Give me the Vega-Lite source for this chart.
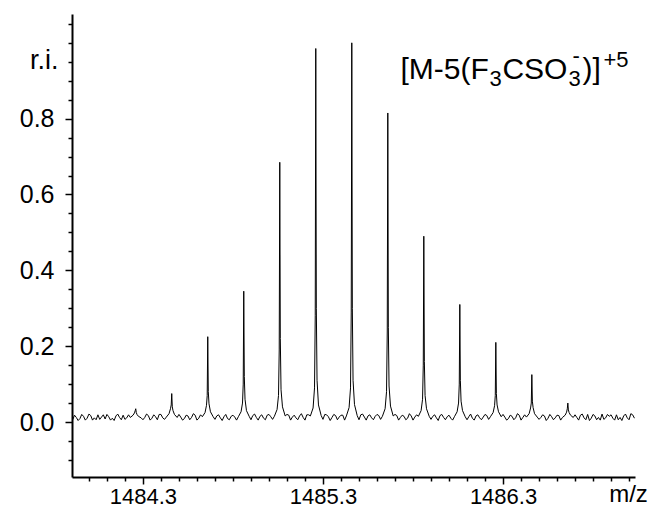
{
 "$schema": "https://vega.github.io/schema/vega-lite/v6.json",
 "width": 563, "height": 463,
 "autosize": {"type": "none"},
 "padding": {"left": 72, "top": 14, "right": 17, "bottom": 45},
 "background": "white",
 "config": {"view": {"stroke": null}, "font": "Liberation Sans"},
 "resolve": {"axis": {"x": "independent", "y": "independent"}},
 "layer": [
  {
   "data": {"values": [
    {"mz":1483.91,"ri":0.006},{"mz":1483.93,"ri":0.012},{"mz":1483.95,"ri":0.009},{"mz":1483.97,"ri":0.015},{"mz":1483.99,"ri":0.010},{"mz":1484.01,"ri":0.017},{"mz":1484.03,"ri":0.011},{"mz":1484.05,"ri":0.019},{"mz":1484.07,"ri":0.013},{"mz":1484.09,"ri":0.008},{"mz":1484.11,"ri":0.014},{"mz":1484.13,"ri":0.010},{"mz":1484.15,"ri":0.016},{"mz":1484.17,"ri":0.012},{"mz":1484.19,"ri":0.018},{"mz":1484.21,"ri":0.011},
    {"mz":1484.23,"ri":0.012},{"mz":1484.245,"ri":0.018},{"mz":1484.253,"ri":0.024},{"mz":1484.257,"ri":0.030},{"mz":1484.26,"ri":0.035},{"mz":1484.263,"ri":0.025},{"mz":1484.267,"ri":0.020},{"mz":1484.275,"ri":0.015},{"mz":1484.29,"ri":0.011},
    {"mz":1484.31,"ri":0.012},{"mz":1484.33,"ri":0.017},{"mz":1484.35,"ri":0.010},{"mz":1484.37,"ri":0.014},{"mz":1484.39,"ri":0.020},{"mz":1484.41,"ri":0.011},
    {"mz":1484.43,"ri":0.013},{"mz":1484.445,"ri":0.022},{"mz":1484.453,"ri":0.035},{"mz":1484.457,"ri":0.045},{"mz":1484.46,"ri":0.075},{"mz":1484.463,"ri":0.040},{"mz":1484.467,"ri":0.030},{"mz":1484.475,"ri":0.020},{"mz":1484.49,"ri":0.012},
    {"mz":1484.51,"ri":0.013},{"mz":1484.53,"ri":0.009},{"mz":1484.55,"ri":0.016},{"mz":1484.57,"ri":0.012},{"mz":1484.59,"ri":0.018},{"mz":1484.61,"ri":0.010},
    {"mz":1484.63,"ri":0.014},{"mz":1484.645,"ri":0.025},{"mz":1484.653,"ri":0.044},{"mz":1484.657,"ri":0.070},{"mz":1484.66,"ri":0.225},{"mz":1484.663,"ri":0.080},{"mz":1484.667,"ri":0.048},{"mz":1484.675,"ri":0.027},{"mz":1484.69,"ri":0.014},
    {"mz":1484.71,"ri":0.016},{"mz":1484.73,"ri":0.011},{"mz":1484.75,"ri":0.014},{"mz":1484.77,"ri":0.009},{"mz":1484.79,"ri":0.015},{"mz":1484.81,"ri":0.013},
    {"mz":1484.83,"ri":0.014},{"mz":1484.845,"ri":0.027},{"mz":1484.853,"ri":0.050},{"mz":1484.857,"ri":0.100},{"mz":1484.86,"ri":0.345},{"mz":1484.863,"ri":0.120},{"mz":1484.867,"ri":0.060},{"mz":1484.875,"ri":0.030},{"mz":1484.89,"ri":0.015},
    {"mz":1484.91,"ri":0.017},{"mz":1484.93,"ri":0.012},{"mz":1484.95,"ri":0.015},{"mz":1484.97,"ri":0.010},{"mz":1484.99,"ri":0.018},{"mz":1485.01,"ri":0.014},
    {"mz":1485.03,"ri":0.015},{"mz":1485.045,"ri":0.033},{"mz":1485.053,"ri":0.070},{"mz":1485.057,"ri":0.190},{"mz":1485.06,"ri":0.685},{"mz":1485.063,"ri":0.220},{"mz":1485.067,"ri":0.085},{"mz":1485.075,"ri":0.040},{"mz":1485.09,"ri":0.016},
    {"mz":1485.11,"ri":0.018},{"mz":1485.13,"ri":0.013},{"mz":1485.15,"ri":0.011},{"mz":1485.17,"ri":0.016},{"mz":1485.19,"ri":0.012},{"mz":1485.21,"ri":0.019},
    {"mz":1485.23,"ri":0.016},{"mz":1485.245,"ri":0.037},{"mz":1485.253,"ri":0.090},{"mz":1485.257,"ri":0.280},{"mz":1485.26,"ri":0.985},{"mz":1485.263,"ri":0.300},{"mz":1485.267,"ri":0.110},{"mz":1485.275,"ri":0.045},{"mz":1485.29,"ri":0.017},
    {"mz":1485.31,"ri":0.020},{"mz":1485.33,"ri":0.014},{"mz":1485.35,"ri":0.012},{"mz":1485.37,"ri":0.017},{"mz":1485.39,"ri":0.013},{"mz":1485.41,"ri":0.018},
    {"mz":1485.43,"ri":0.016},{"mz":1485.445,"ri":0.038},{"mz":1485.453,"ri":0.090},{"mz":1485.457,"ri":0.290},{"mz":1485.46,"ri":1.0},{"mz":1485.463,"ri":0.300},{"mz":1485.467,"ri":0.110},{"mz":1485.475,"ri":0.046},{"mz":1485.49,"ri":0.017},
    {"mz":1485.51,"ri":0.019},{"mz":1485.53,"ri":0.013},{"mz":1485.55,"ri":0.016},{"mz":1485.57,"ri":0.011},{"mz":1485.59,"ri":0.015},{"mz":1485.61,"ri":0.017},
    {"mz":1485.63,"ri":0.015},{"mz":1485.645,"ri":0.035},{"mz":1485.653,"ri":0.080},{"mz":1485.657,"ri":0.240},{"mz":1485.66,"ri":0.815},{"mz":1485.663,"ri":0.250},{"mz":1485.667,"ri":0.095},{"mz":1485.675,"ri":0.042},{"mz":1485.69,"ri":0.016},
    {"mz":1485.71,"ri":0.017},{"mz":1485.73,"ri":0.012},{"mz":1485.75,"ri":0.015},{"mz":1485.77,"ri":0.010},{"mz":1485.79,"ri":0.016},{"mz":1485.81,"ri":0.013},
    {"mz":1485.83,"ri":0.015},{"mz":1485.845,"ri":0.030},{"mz":1485.853,"ri":0.060},{"mz":1485.857,"ri":0.150},{"mz":1485.86,"ri":0.490},{"mz":1485.863,"ri":0.160},{"mz":1485.867,"ri":0.070},{"mz":1485.875,"ri":0.035},{"mz":1485.89,"ri":0.015},
    {"mz":1485.91,"ri":0.015},{"mz":1485.93,"ri":0.011},{"mz":1485.95,"ri":0.017},{"mz":1485.97,"ri":0.012},{"mz":1485.99,"ri":0.014},{"mz":1486.01,"ri":0.010},
    {"mz":1486.03,"ri":0.014},{"mz":1486.045,"ri":0.027},{"mz":1486.053,"ri":0.050},{"mz":1486.057,"ri":0.100},{"mz":1486.06,"ri":0.310},{"mz":1486.063,"ri":0.110},{"mz":1486.067,"ri":0.055},{"mz":1486.075,"ri":0.030},{"mz":1486.09,"ri":0.014},
    {"mz":1486.11,"ri":0.014},{"mz":1486.13,"ri":0.010},{"mz":1486.15,"ri":0.016},{"mz":1486.17,"ri":0.011},{"mz":1486.19,"ri":0.013},{"mz":1486.21,"ri":0.017},
    {"mz":1486.23,"ri":0.014},{"mz":1486.245,"ri":0.025},{"mz":1486.253,"ri":0.043},{"mz":1486.257,"ri":0.070},{"mz":1486.26,"ri":0.210},{"mz":1486.263,"ri":0.075},{"mz":1486.267,"ri":0.045},{"mz":1486.275,"ri":0.027},{"mz":1486.29,"ri":0.014},
    {"mz":1486.31,"ri":0.013},{"mz":1486.33,"ri":0.009},{"mz":1486.35,"ri":0.015},{"mz":1486.37,"ri":0.011},{"mz":1486.39,"ri":0.018},{"mz":1486.41,"ri":0.012},
    {"mz":1486.43,"ri":0.013},{"mz":1486.445,"ri":0.022},{"mz":1486.453,"ri":0.037},{"mz":1486.457,"ri":0.050},{"mz":1486.46,"ri":0.125},{"mz":1486.463,"ri":0.055},{"mz":1486.467,"ri":0.038},{"mz":1486.475,"ri":0.022},{"mz":1486.49,"ri":0.013},
    {"mz":1486.51,"ri":0.012},{"mz":1486.53,"ri":0.016},{"mz":1486.55,"ri":0.010},{"mz":1486.57,"ri":0.014},{"mz":1486.59,"ri":0.011},{"mz":1486.61,"ri":0.017},
    {"mz":1486.63,"ri":0.012},{"mz":1486.645,"ri":0.018},{"mz":1486.653,"ri":0.026},{"mz":1486.657,"ri":0.035},{"mz":1486.66,"ri":0.050},{"mz":1486.663,"ri":0.032},{"mz":1486.667,"ri":0.025},{"mz":1486.675,"ri":0.018},{"mz":1486.69,"ri":0.012},
    {"mz":1486.71,"ri":0.012},{"mz":1486.73,"ri":0.018},{"mz":1486.75,"ri":0.011},{"mz":1486.77,"ri":0.020},{"mz":1486.79,"ri":0.010},{"mz":1486.81,"ri":0.016},{"mz":1486.83,"ri":0.012},{"mz":1486.85,"ri":0.021},{"mz":1486.87,"ri":0.011},{"mz":1486.89,"ri":0.015},{"mz":1486.91,"ri":0.010},{"mz":1486.93,"ri":0.019},{"mz":1486.95,"ri":0.012},{"mz":1486.97,"ri":0.016},{"mz":1486.99,"ri":0.011},{"mz":1487.01,"ri":0.022},{"mz":1487.03,"ri":0.010},
    {"mz":1483.92,"ri":0.018},{"mz":1483.94,"ri":0.004},{"mz":1483.96,"ri":0.020},{"mz":1483.98,"ri":0.005},{"mz":1484.00,"ri":0.021},{"mz":1484.02,"ri":0.005},{"mz":1484.04,"ri":0.006},{"mz":1484.06,"ri":0.007},{"mz":1484.08,"ri":0.019},{"mz":1484.10,"ri":0.020},{"mz":1484.12,"ri":0.005},{"mz":1484.14,"ri":0.004},{"mz":1484.16,"ri":0.021},{"mz":1484.18,"ri":0.006},{"mz":1484.20,"ri":0.007},{"mz":1484.22,"ri":0.019},
    {"mz":1484.30,"ri":0.006},{"mz":1484.32,"ri":0.021},{"mz":1484.34,"ri":0.005},{"mz":1484.36,"ri":0.019},{"mz":1484.38,"ri":0.006},{"mz":1484.40,"ri":0.020},{"mz":1484.42,"ri":0.007},
    {"mz":1484.50,"ri":0.020},{"mz":1484.52,"ri":0.005},{"mz":1484.54,"ri":0.018},{"mz":1484.56,"ri":0.006},{"mz":1484.58,"ri":0.022},{"mz":1484.60,"ri":0.005},{"mz":1484.62,"ri":0.019},
    {"mz":1484.70,"ri":0.007},{"mz":1484.72,"ri":0.019},{"mz":1484.74,"ri":0.004},{"mz":1484.76,"ri":0.020},{"mz":1484.78,"ri":0.006},{"mz":1484.80,"ri":0.018},{"mz":1484.82,"ri":0.005},
    {"mz":1484.90,"ri":0.006},{"mz":1484.92,"ri":0.021},{"mz":1484.94,"ri":0.005},{"mz":1484.96,"ri":0.019},{"mz":1484.98,"ri":0.006},{"mz":1485.00,"ri":0.020},{"mz":1485.02,"ri":0.007},
    {"mz":1485.10,"ri":0.020},{"mz":1485.12,"ri":0.005},{"mz":1485.14,"ri":0.018},{"mz":1485.16,"ri":0.006},{"mz":1485.18,"ri":0.022},{"mz":1485.20,"ri":0.005},{"mz":1485.22,"ri":0.019},
    {"mz":1485.30,"ri":0.007},{"mz":1485.32,"ri":0.019},{"mz":1485.34,"ri":0.004},{"mz":1485.36,"ri":0.020},{"mz":1485.38,"ri":0.006},{"mz":1485.40,"ri":0.018},{"mz":1485.42,"ri":0.005},
    {"mz":1485.50,"ri":0.006},{"mz":1485.52,"ri":0.021},{"mz":1485.54,"ri":0.005},{"mz":1485.56,"ri":0.019},{"mz":1485.58,"ri":0.006},{"mz":1485.60,"ri":0.020},{"mz":1485.62,"ri":0.007},
    {"mz":1485.70,"ri":0.020},{"mz":1485.72,"ri":0.005},{"mz":1485.74,"ri":0.018},{"mz":1485.76,"ri":0.006},{"mz":1485.78,"ri":0.022},{"mz":1485.80,"ri":0.005},{"mz":1485.82,"ri":0.019},
    {"mz":1485.90,"ri":0.007},{"mz":1485.92,"ri":0.019},{"mz":1485.94,"ri":0.004},{"mz":1485.96,"ri":0.020},{"mz":1485.98,"ri":0.006},{"mz":1486.00,"ri":0.018},{"mz":1486.02,"ri":0.005},
    {"mz":1486.10,"ri":0.006},{"mz":1486.12,"ri":0.021},{"mz":1486.14,"ri":0.005},{"mz":1486.16,"ri":0.019},{"mz":1486.18,"ri":0.006},{"mz":1486.20,"ri":0.020},{"mz":1486.22,"ri":0.007},
    {"mz":1486.30,"ri":0.020},{"mz":1486.32,"ri":0.005},{"mz":1486.34,"ri":0.018},{"mz":1486.36,"ri":0.006},{"mz":1486.38,"ri":0.022},{"mz":1486.40,"ri":0.005},{"mz":1486.42,"ri":0.019},
    {"mz":1486.50,"ri":0.007},{"mz":1486.52,"ri":0.019},{"mz":1486.54,"ri":0.004},{"mz":1486.56,"ri":0.020},{"mz":1486.58,"ri":0.006},{"mz":1486.60,"ri":0.018},{"mz":1486.62,"ri":0.005},
    {"mz":1486.70,"ri":0.019},{"mz":1486.72,"ri":0.005},{"mz":1486.74,"ri":0.021},{"mz":1486.76,"ri":0.006},{"mz":1486.78,"ri":0.004},{"mz":1486.80,"ri":0.020},{"mz":1486.82,"ri":0.006},{"mz":1486.84,"ri":0.005},{"mz":1486.86,"ri":0.007},{"mz":1486.88,"ri":0.020},{"mz":1486.90,"ri":0.019},{"mz":1486.92,"ri":0.005},{"mz":1486.94,"ri":0.006},{"mz":1486.96,"ri":0.004},{"mz":1486.98,"ri":0.021},{"mz":1487.00,"ri":0.006},{"mz":1487.02,"ri":0.019}
   ]},
   "mark": {"type": "line", "color": "#000", "strokeWidth": 1, "clip": true},
   "encoding": {
    "x": {"field": "mz", "type": "quantitative",
     "scale": {"domain": [1483.906, 1487.033], "nice": false, "zero": false},
     "axis": {
      "orient": "bottom",
      "values": [1484.3, 1485.3, 1486.3],
      "format": ".1f",
      "tickSize": 7,
      "tickColor": "#000", "tickWidth": 1.5,
      "domainColor": "#000", "domainWidth": 2,
      "labelColor": "#000", "labelFontSize": 22, "labelPadding": 2,
      "labelFlush": false, "labelOverlap": false, "grid": false,
      "title": "m/z", "titleFontSize": 24, "titleFontWeight": "normal", "titleColor": "#000",
      "titleX": 556, "titleY": 17, "titleAlign": "center", "titleBaseline": "middle"
     }},
    "y": {"field": "ri", "type": "quantitative",
     "scale": {"domain": [-0.145, 1.076], "nice": false, "zero": false},
     "axis": {
      "orient": "left",
      "values": [0, 0.2, 0.4, 0.6, 0.8],
      "format": ".1f",
      "tickSize": 7,
      "tickColor": "#000", "tickWidth": 1.5,
      "domainColor": "#000", "domainWidth": 2,
      "labelColor": "#000", "labelFontSize": 25, "labelPadding": 11,
      "labelOverlap": false, "labelFlush": false, "grid": false,
      "title": "r.i.", "titleAngle": 0, "titleFontSize": 27, "titleFontWeight": "normal", "titleColor": "#000",
      "titleAlign": "right", "titleBaseline": "middle", "titleX": -14, "titleY": 46
     }}
   }
  },
  {
   "data": {"values": [{"mz": 1485.73, "ri": 0.905}]},
   "encoding": {
    "x": {"field": "mz", "type": "quantitative",
     "axis": {
      "orient": "bottom",
      "values": [1484.0,1484.1,1484.2,1484.4,1484.5,1484.6,1484.7,1484.8,1484.9,1485.0,1485.1,1485.2,1485.4,1485.5,1485.6,1485.7,1485.8,1485.9,1486.0,1486.1,1486.2,1486.4,1486.5,1486.6,1486.7,1486.8,1486.9,1487.0],
      "labels": false, "domain": false, "grid": false, "title": null,
      "tickSize": 4, "tickColor": "#000", "tickWidth": 1.5
     }},
    "y": {"field": "ri", "type": "quantitative",
     "axis": {
      "orient": "left",
      "values": [-0.1,-0.05,0.05,0.1,0.15,0.25,0.3,0.35,0.45,0.5,0.55,0.65,0.7,0.75,0.85,0.9,0.95,1.0,1.05],
      "labels": false, "domain": false, "grid": false, "title": null,
      "tickSize": 4, "tickColor": "#000", "tickWidth": 1.5
     }}
   },
   "layer": [
    {"mark": {"type": "text", "align": "left", "baseline": "alphabetic", "fontSize": 30, "color": "#000", "dx": 0}, "encoding": {"text": {"value": "[M-5(F"}}},
    {"mark": {"type": "text", "align": "left", "baseline": "alphabetic", "fontSize": 22, "color": "#000", "dx": 89, "dy": 7}, "encoding": {"text": {"value": "3"}}},
    {"mark": {"type": "text", "align": "left", "baseline": "alphabetic", "fontSize": 30, "color": "#000", "dx": 102}, "encoding": {"text": {"value": "CSO"}}},
    {"mark": {"type": "text", "align": "left", "baseline": "alphabetic", "fontSize": 22, "color": "#000", "dx": 168, "dy": 7}, "encoding": {"text": {"value": "3"}}},
    {"mark": {"type": "text", "align": "left", "baseline": "alphabetic", "fontSize": 22, "color": "#000", "dx": 172, "dy": -16}, "encoding": {"text": {"value": "-"}}},
    {"mark": {"type": "text", "align": "left", "baseline": "alphabetic", "fontSize": 30, "color": "#000", "dx": 182}, "encoding": {"text": {"value": ")]"}}},
    {"mark": {"type": "text", "align": "left", "baseline": "alphabetic", "fontSize": 22, "color": "#000", "dx": 203, "dy": -12}, "encoding": {"text": {"value": "+5"}}}
   ]
  }
 ]
}
